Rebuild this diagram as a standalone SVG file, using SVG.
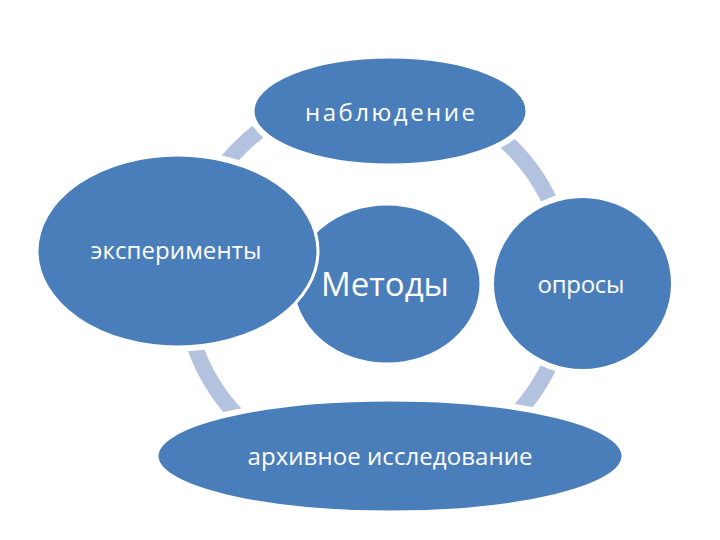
<svg xmlns="http://www.w3.org/2000/svg" width="720" height="540" viewBox="0 0 720 540">
  <style>
    .node { fill: #4a7ebb; stroke: #ffffff; stroke-width: 3; }
    .lbl { fill: #ffffff; font-family: "Open Sans", "Noto Sans", "DejaVu Sans", sans-serif; text-anchor: middle; }
    .ring { fill: none; stroke: #b3c2de; stroke-width: 16; }
    .cut { fill: #000000; stroke: #000000; stroke-width: 9; }
  </style>
  <defs>
    <mask id="ringMask" maskUnits="userSpaceOnUse" x="0" y="0" width="720" height="540">
      <rect x="0" y="0" width="720" height="540" fill="#ffffff"/>
      <ellipse class="cut" cx="390" cy="111" rx="137" ry="54"/>
      <ellipse class="cut" cx="177.5" cy="251" rx="140.5" ry="96"/>
      <ellipse class="cut" cx="582.5" cy="283.5" rx="90" ry="87"/>
      <ellipse class="cut" cx="390" cy="456" rx="233" ry="56"/>
    </mask>
  </defs>
  <rect x="0" y="0" width="720" height="540" fill="#ffffff"/>
  <g id="connectors">
    <circle class="ring" cx="376" cy="283" r="192" mask="url(#ringMask)"/>
  </g>
  <g id="node-methods">
    <ellipse class="node" cx="387" cy="284" rx="94" ry="80"/>
    <text class="lbl" x="385" y="296" font-size="33">Методы</text>
  </g>
  <g id="node-observation">
    <ellipse class="node" cx="390" cy="111" rx="137" ry="54"/>
    <text class="lbl" x="390" y="121" font-size="24" textLength="170" lengthAdjust="spacing">наблюдение</text>
  </g>
  <g id="node-experiments">
    <ellipse class="node" cx="177.5" cy="251" rx="140.5" ry="96"/>
    <text class="lbl" x="176" y="259" font-size="24" textLength="171" lengthAdjust="spacing">эксперименты</text>
  </g>
  <g id="node-surveys">
    <ellipse class="node" cx="582.5" cy="283.5" rx="90" ry="87"/>
    <text class="lbl" x="581" y="293" font-size="24" textLength="87" lengthAdjust="spacing">опросы</text>
  </g>
  <g id="node-archive">
    <ellipse class="node" cx="390" cy="456" rx="233" ry="56"/>
    <text class="lbl" x="390" y="465" font-size="24" textLength="285" lengthAdjust="spacing">архивное исследование</text>
  </g>
</svg>
